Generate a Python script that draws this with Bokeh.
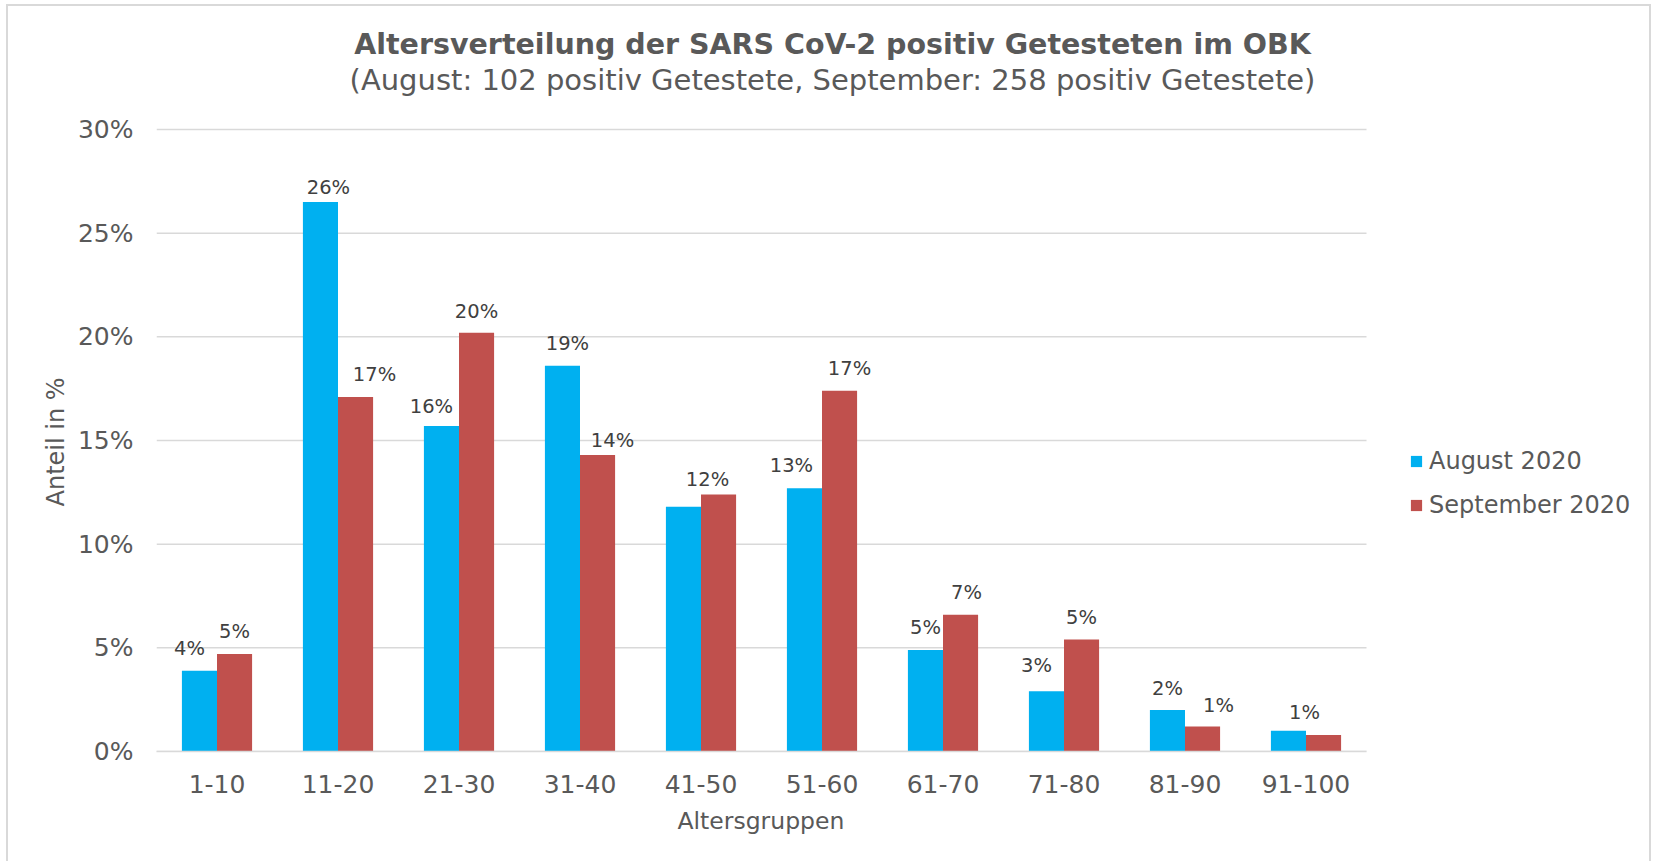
from bokeh.plotting import figure
from bokeh.models import (ColumnDataSource, Range1d, NumeralTickFormatter,
                          FixedTicker, Label, Legend, LegendItem, Title)
from bokeh.transform import dodge
from bokeh.core.properties import value
from bokeh.embed import file_html
from bokeh.resources import INLINE

# ---------------- data ----------------
categories = ["1-10", "11-20", "21-30", "31-40", "41-50",
              "51-60", "61-70", "71-80", "81-90", "91-100"]
august_2020 = [0.039, 0.265, 0.157, 0.186, 0.118, 0.127, 0.049, 0.029, 0.020, 0.010]
september_2020 = [0.047, 0.171, 0.202, 0.143, 0.124, 0.174, 0.066, 0.054, 0.012, 0.008]
august_label_shown = [True, True, True, True, False, True, True, True, True, True]
september_label_shown = [True, True, True, True, True, True, True, True, True, False]
y_ticks = [0.0, 0.05, 0.10, 0.15, 0.20, 0.25, 0.30]
y_max = 0.30

title_text = "Altersverteilung der SARS CoV-2 positiv Getesteten im OBK"
subtitle_text = "(August: 102 positiv Getestete, September: 258 positiv Getestete)"
series_names = ["August 2020", "September 2020"]
x_title = "Altersgruppen"
y_title = "Anteil in %"

# ---------------- layout / style ----------------
FONT = "DejaVu Sans"
TXT = "#595959"
GRID = "#D9D9D9"
BLUE = "#00B0F0"
RED = "#C0504D"
BAR_W = 0.29

W, H = 1645, 857          # figure content size
LEFT, BOTTOM = 148, 112   # space for axes
PLOT_W, PLOT_H = 1210, 622  # width of category area, height of 0..30% area
FRAME_W = W - LEFT
FRAME_H = H - BOTTOM
n = len(categories)
x_end = n * FRAME_W / PLOT_W
y_end = y_max * FRAME_H / PLOT_H

# label nudges (pixels) mimicking the manual label placement
aug_dx = [-10, 8, -10, 5, 0, -13, 0, -10, 0, 16]
aug_dy = [22, 15, 19, 22, 22, 23, 22, 26, 22, 18]
sep_dx = [0, 19, 0, 15, -11, 10, 6, 0, 16, 0]
sep_dy = [23, 22, 21, 15, 15, 22, 22, 22, 21, 22]

p = figure(x_range=Range1d(0, x_end), y_range=Range1d(0, y_end),
           width=W, height=H,
           min_border_left=LEFT, min_border_right=0,
           min_border_top=0, min_border_bottom=BOTTOM,
           output_backend="svg", toolbar_location=None)
p.styles = {"margin-left": "6px", "margin-top": "4px",
            "border-top": "2px solid #D9D9D9", "border-left": "2px solid #D9D9D9",
            "border-right": "2px solid #D9D9D9"}

pos = [i + 0.5 for i in range(n)]
src = ColumnDataSource(dict(pos=pos, cat=categories, aug=august_2020, sep=september_2020))

# horizontal gridlines limited to the category area
p.segment(x0=[0] * len(y_ticks), x1=[n] * len(y_ticks), y0=y_ticks, y1=y_ticks,
          line_color=GRID, line_width=1.5)

r_aug = p.vbar(x=dodge("pos", -BAR_W / 2), top="aug", width=BAR_W,
               source=src, fill_color=BLUE, line_color=None)
r_sep = p.vbar(x=dodge("pos", BAR_W / 2), top="sep", width=BAR_W,
               source=src, fill_color=RED, line_color=None)


def label_source(vals, shown, dx, dy):
    d = dict(pos=[], y=[], txt=[], dx=[], dy=[])
    for c, v, s, ox, oy in zip(pos, vals, shown, dx, dy):
        if s:
            d["pos"].append(c)
            d["y"].append(v)
            d["txt"].append(f"{round(v * 100)}%")
            d["dx"].append(ox)
            d["dy"].append(-oy)
    return ColumnDataSource(d)


for vals, shown, dx, dy, off in [(august_2020, august_label_shown, aug_dx, aug_dy, -BAR_W / 2),
                                 (september_2020, september_label_shown, sep_dx, sep_dy, BAR_W / 2)]:
    ls = label_source(vals, shown, dx, dy)
    p.text(x=dodge("pos", off), y="y", text="txt", source=ls,
           x_offset="dx", y_offset="dy", text_align="center", text_baseline="middle",
           text_font=value(FONT), text_font_size="19.5px", text_color="#404040")

# axes
p.yaxis.ticker = FixedTicker(ticks=y_ticks)
p.yaxis.bounds = (0, y_max)
p.yaxis.formatter = NumeralTickFormatter(format="0%")
p.yaxis.axis_line_color = None
p.yaxis.major_tick_line_color = None
p.yaxis.minor_tick_line_color = None
p.yaxis.major_label_standoff = 17
p.yaxis.major_label_text_font = FONT
p.yaxis.major_label_text_font_size = "25px"
p.yaxis.major_label_text_color = TXT

p.xaxis.ticker = FixedTicker(ticks=pos)
p.xaxis.major_label_overrides = {x: c for x, c in zip(pos, categories)}
p.xaxis.bounds = (0, n)
p.xaxis.axis_line_color = GRID
p.xaxis.axis_line_width = 1.5
p.xaxis.major_tick_line_color = None
p.xaxis.minor_tick_line_color = None
p.xaxis.major_label_standoff = 17
p.xaxis.major_label_text_font = FONT
p.xaxis.major_label_text_font_size = "25px"
p.xaxis.major_label_text_color = TXT

p.xgrid.grid_line_color = None
p.ygrid.grid_line_color = None
p.outline_line_color = None

# axis titles, centred on the category / 0..30% area
p.add_layout(Title(text=x_title, align="left", offset=521, standoff=18,
                   text_font=FONT, text_font_size="23.5px", text_font_style="normal",
                   text_color=TXT), "below")
p.add_layout(Title(text=y_title, align="left", offset=245, standoff=10,
                   text_font=FONT, text_font_size="24px", text_font_style="normal",
                   text_color=TXT), "left")

# titles (screen units relative to the plot frame)
p.add_layout(Label(x=676, y=707, x_units="screen", y_units="screen", text=title_text,
                   text_align="center", text_baseline="middle", text_font=FONT,
                   text_font_size="28.5px", text_font_style="bold", text_color=TXT))
p.add_layout(Label(x=676, y=672, x_units="screen", y_units="screen", text=subtitle_text,
                   text_align="center", text_baseline="middle", text_font=FONT,
                   text_font_size="29px", text_color=TXT))

# legend
legend = Legend(items=[LegendItem(label=series_names[0], renderers=[r_aug]),
                       LegendItem(label=series_names[1], renderers=[r_sep])],
                location=(1253, 231), orientation="vertical")
legend.glyph_width = 14
legend.glyph_height = 14
legend.label_height = 30
legend.label_standoff = 6
legend.spacing = 14
legend.padding = 0
legend.margin = 0
legend.border_line_color = None
legend.background_fill_alpha = 0
legend.label_text_font = FONT
legend.label_text_font_size = "24px"
legend.label_text_color = TXT
p.add_layout(legend)

open("out.html", "w").write(file_html(p, INLINE))
